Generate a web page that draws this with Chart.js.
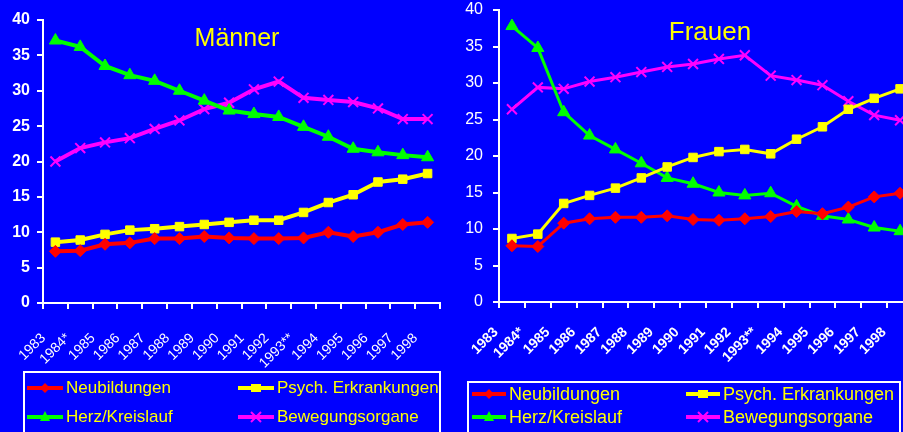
<!DOCTYPE html>
<html lang="de">
  <head>
    <meta charset="UTF-8" />
    <title>AU-Tage nach Diagnosen</title>
    <script src="https://cdn.jsdelivr.net/npm/chart.js@4.4.0/dist/chart.umd.min.js"></script>
    <style>
      body {
        margin: 0;
        background-color: #0000ff;
        width: 903px;
        height: 432px;
        overflow: hidden;
        position: relative;
        font-family: "Liberation Sans", Arial, sans-serif;
      }
      .panel {
        position: absolute;
        top: 0;
      }
      .legend {
        position: absolute;
        border: 2px solid #ffffff;
        box-sizing: border-box;
      }
      .item {
        position: absolute;
        display: flex;
        align-items: center;
        height: 20px;
        color: #ffff00;
        white-space: nowrap;
      }
      .item canvas {
        margin-right: 3px;
      }
    </style>
  </head>
  <body>
    <canvas id="men" class="panel" width="450" height="372" style="left: 0"></canvas>
    <canvas id="women" class="panel" width="463" height="381" style="left: 450px"></canvas>
    <div id="legendMen" class="legend" style="left: 23px; top: 371px; width: 418px; height: 80px"></div>
    <div id="legendWomen" class="legend" style="left: 467px; top: 381px; width: 434px; height: 80px"></div>
    <script>
      const years = [
        "1983", "1984*", "1985", "1986", "1987", "1988", "1989", "1990",
        "1991", "1992", "1993**", "1994", "1995", "1996", "1997", "1998",
      ];
      const seriesNames = ["Neubildungen", "Psych. Erkrankungen", "Herz/Kreislauf", "Bewegungsorgane"];
      const yTicks = [0, 5, 10, 15, 20, 25, 30, 35, 40];

      // Männer
      const menNeu = [7.3, 7.4, 8.3, 8.5, 9.1, 9.1, 9.4, 9.2, 9.1, 9.1, 9.2, 10.0, 9.4, 10.0, 11.1, 11.4];
      const menPsych = [8.6, 8.9, 9.7, 10.3, 10.5, 10.8, 11.1, 11.4, 11.7, 11.7, 12.8, 14.2, 15.3, 17.1, 17.5, 18.3];
      const menHerz = [37.1, 36.2, 33.5, 32.2, 31.4, 30.0, 28.6, 27.2, 26.7, 26.3, 24.9, 23.5, 21.8, 21.3, 20.9, 20.6];
      const menBeweg = [20.0, 21.9, 22.7, 23.3, 24.6, 25.8, 27.4, 28.3, 30.2, 31.3, 29.0, 28.7, 28.4, 27.5, 26.0, 26.0];

      // Frauen
      const womenNeu = [7.7, 7.6, 10.8, 11.4, 11.6, 11.6, 11.8, 11.3, 11.2, 11.4, 11.7, 12.4, 12.1, 13.0, 14.4, 14.9];
      const womenPsych = [8.7, 9.3, 13.5, 14.6, 15.6, 17.0, 18.5, 19.8, 20.6, 20.9, 20.3, 22.3, 24.0, 26.4, 27.9, 29.2];
      const womenHerz = [37.8, 34.8, 26.0, 22.8, 20.9, 19.0, 17.0, 16.2, 15.0, 14.6, 14.9, 13.1, 11.8, 11.3, 10.2, 9.7];
      const womenBeweg = [26.4, 29.4, 29.2, 30.2, 30.8, 31.5, 32.2, 32.6, 33.3, 33.8, 31.0, 30.4, 29.7, 27.5, 25.6, 24.9];

      const styles = [
        { color: "#ff0000", point: "rectRot", radius: 6 },
        { color: "#ffff00", point: "rect", radius: 6 },
        { color: "#00ff00", point: "triangle", radius: 7 },
        { color: "#ff00ff", point: "crossRot", radius: 7 },
      ];

      const panelTitle = {
        id: "panelTitle",
        beforeDatasetsDraw(chart, args, opts) {
          const ctx = chart.ctx;
          ctx.save();
          ctx.font = opts.font;
          ctx.fillStyle = "#ffff00";
          ctx.textAlign = "center";
          ctx.textBaseline = "alphabetic";
          ctx.fillText(opts.text, opts.x, opts.y);
          ctx.restore();
        },
      };

      function makeDatasets(values, lineWidth) {
        return values.map((data, i) => ({
          label: seriesNames[i],
          data: data,
          borderColor: styles[i].color,
          backgroundColor: styles[i].color,
          borderWidth: lineWidth,
          pointStyle: styles[i].point,
          pointRadius: styles[i].radius,
          pointBackgroundColor: styles[i].color,
          pointBorderColor: styles[i].color,
          pointBorderWidth: styles[i].point === "crossRot" ? 2 : 1,
          tension: 0,
          clip: false,
        }));
      }

      function makeChart(id, cfg) {
        return new Chart(document.getElementById(id), {
          type: "line",
          data: { labels: years, datasets: makeDatasets(cfg.values, cfg.lineWidth) },
          plugins: [panelTitle],
          options: {
            responsive: false,
            animation: false,
            layout: { autoPadding: false, padding: { top: cfg.top, right: cfg.right, left: 0, bottom: 0 } },
            plugins: {
              legend: { display: false },
              tooltip: { enabled: false },
              panelTitle: cfg.title,
            },
            scales: {
              x: {
                offset: true,
                grid: { offset: true, drawOnChartArea: false, color: "#ffffff", lineWidth: 2, tickLength: 6 },
                border: { color: "#ffffff", width: 2 },
                ticks: {
                  color: "#ffffff",
                  autoSkip: false,
                  minRotation: 45,
                  maxRotation: 45,
                  labelOffset: cfg.labelOffset,
                  padding: cfg.xPad,
                  font: cfg.xFont,
                },
                afterFit: (s) => {
                  s.height = cfg.xHeight;
                  s.paddingLeft = 0;
                  s.paddingRight = 0;
                },
              },
              y: {
                min: 0,
                max: 40,
                afterBuildTicks: (s) => { s.ticks = yTicks.map((v) => ({ value: v })); },
                grid: { drawOnChartArea: false, color: "#ffffff", lineWidth: 2, tickLength: 6 },
                border: { color: "#ffffff", width: 2 },
                ticks: { color: "#ffffff", padding: cfg.yPad, font: cfg.yFont },
                afterFit: (s) => {
                  s.width = cfg.yWidth;
                  s.paddingTop = 0;
                  s.paddingBottom = 0;
                },
              },
            },
          },
        });
      }

      makeChart("men", {
        values: [menNeu, menPsych, menHerz, menBeweg],
        lineWidth: 4,
        top: 20,
        right: 10,
        yWidth: 43,
        xHeight: 69,
        labelOffset: -12,
        xPad: 21,
        yPad: 7,
        xFont: { family: "Liberation Sans", size: 14 },
        yFont: { family: "Liberation Sans", size: 16, weight: "bold" },
        title: { text: "Männer", x: 237, y: 46, font: "25px 'Liberation Sans'" },
      });

      makeChart("women", {
        values: [womenNeu, womenPsych, womenHerz, womenBeweg],
        lineWidth: 3,
        top: 10,
        right: 0,
        yWidth: 49,
        xHeight: 79,
        labelOffset: -16,
        xPad: 16,
        yPad: 10,
        xFont: { family: "Liberation Sans", size: 14, weight: "bold" },
        yFont: { family: "Liberation Sans", size: 16 },
        title: { text: "Frauen", x: 260, y: 40, font: "26px 'Liberation Sans'" },
      });

      // legend samples: line with the series marker
      function drawSample(cv, st) {
        const c = cv.getContext("2d");
        const w = cv.width, h = cv.height, cx = w / 2, cy = h / 2, r = 5;
        c.strokeStyle = st.color;
        c.fillStyle = st.color;
        c.lineWidth = 4;
        c.beginPath();
        c.moveTo(0, cy);
        c.lineTo(w, cy);
        c.stroke();
        c.beginPath();
        if (st.point === "rectRot") {
          c.moveTo(cx, cy - r); c.lineTo(cx + r, cy); c.lineTo(cx, cy + r); c.lineTo(cx - r, cy);
          c.closePath(); c.fill();
        } else if (st.point === "rect") {
          c.fillRect(cx - r, cy - r + 1, 2 * r, 2 * r - 2);
        } else if (st.point === "triangle") {
          c.moveTo(cx, cy - r - 1); c.lineTo(cx + r, cy + r - 1); c.lineTo(cx - r, cy + r - 1);
          c.closePath(); c.fill();
        } else {
          c.lineWidth = 2;
          c.moveTo(cx - r, cy - r); c.lineTo(cx + r, cy + r);
          c.moveTo(cx + r, cy - r); c.lineTo(cx - r, cy + r);
          c.stroke();
        }
      }

      function buildLegend(id, pos, fontSize, sampleW) {
        const box = document.getElementById(id);
        seriesNames.forEach((name, i) => {
          const item = document.createElement("div");
          item.className = "item";
          item.style.left = pos.cols[i % 2] + "px";
          item.style.top = pos.rows[Math.floor(i / 2)] + "px";
          item.style.fontSize = fontSize + "px";
          const cv = document.createElement("canvas");
          cv.width = sampleW;
          cv.height = 14;
          drawSample(cv, styles[i]);
          item.appendChild(cv);
          const span = document.createElement("span");
          span.textContent = name;
          item.appendChild(span);
          box.appendChild(item);
        });
      }

      buildLegend("legendMen", { cols: [2, 213], rows: [5, 34] }, 17, 36);
      buildLegend("legendWomen", { cols: [3, 217], rows: [1, 24] }, 18, 34);
    </script>
  </body>
</html>
